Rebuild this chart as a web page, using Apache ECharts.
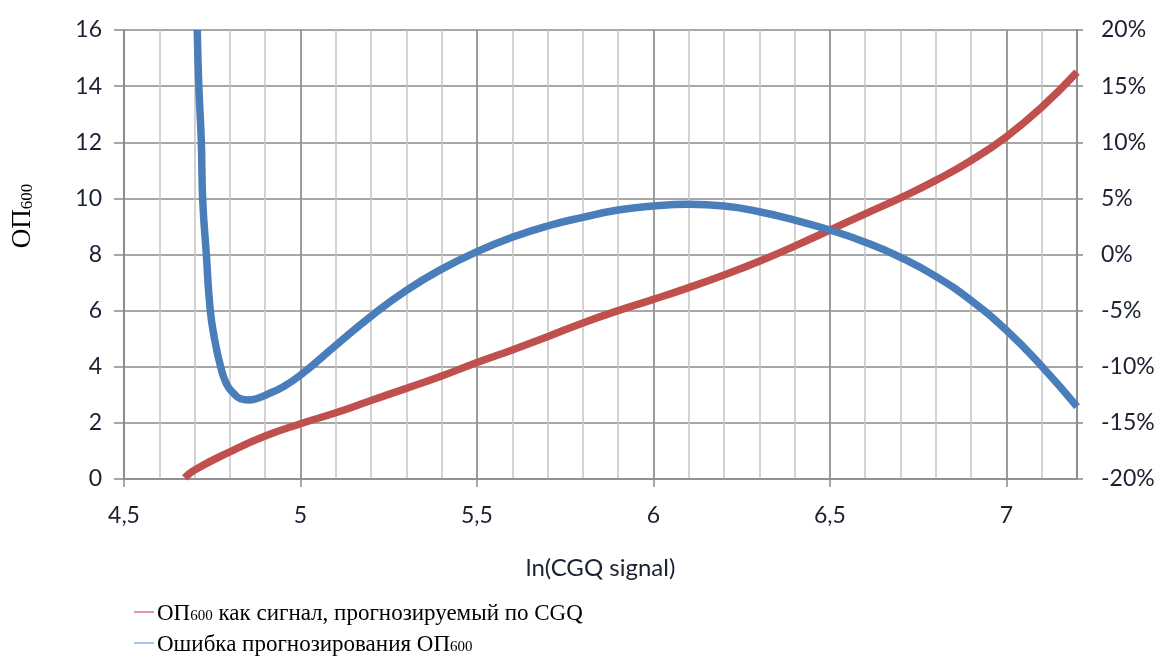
<!DOCTYPE html>
<html>
<head>
<meta charset="utf-8">
<script src="https://cdn.jsdelivr.net/npm/echarts@6/dist/echarts.min.js"></script>
<style>
html,body{margin:0;padding:0;background:#fff;}
#c{width:1167px;height:657px;}
</style>
</head>
<body>
<div id="c"></div>
<script>
// ---- data ----
const xTickLabels = ['4,5', '5', '5,5', '6', '6,5', '7'];
const redX = [4.672, 4.7, 4.8, 4.9, 5.0, 5.1, 5.2, 5.3, 5.4, 5.5, 5.6, 5.7, 5.8, 5.9, 6.0, 6.1, 6.2, 6.3, 6.4, 6.5, 6.6, 6.7, 6.8, 6.9, 7.0, 7.1, 7.2];
const redY = [0.04, 0.32, 0.97, 1.53, 1.97, 2.36, 2.80, 3.23, 3.67, 4.15, 4.60, 5.07, 5.56, 6.0, 6.40, 6.82, 7.27, 7.76, 8.30, 8.87, 9.45, 10.02, 10.64, 11.35, 12.2, 13.25, 14.5];
const blueX = [4.7075, 4.712, 4.719, 4.723, 4.733, 4.744, 4.757, 4.773, 4.79, 4.81, 4.83, 4.851, 4.875, 4.903, 4.95, 5.0, 5.1, 5.2, 5.3, 5.4, 5.5, 5.6, 5.7, 5.8, 5.9, 6.0, 6.1, 6.2, 6.3, 6.4, 6.5, 6.6, 6.7, 6.8, 6.9, 7.0, 7.1, 7.2];
const blueY = [20, 15, 10.1, 4.85, 0.13, -4.85, -7.6, -9.9, -11.5, -12.35, -12.85, -12.96, -12.85, -12.5, -11.8, -10.75, -8.1, -5.5, -3.2, -1.3, 0.25, 1.53, 2.54, 3.31, 3.96, 4.32, 4.47, 4.32, 3.81, 3.07, 2.18, 1.1, -0.25, -1.95, -4.1, -6.75, -9.95, -13.56];
const seriesNames = ['ОП600 как сигнал, прогнозируемый по CGQ', 'Ошибка прогнозирования ОП600'];
const legendRich = ['{t|ОП}{s|600}{t| как сигнал, прогнозируемый по CGQ}', '{t|Ошибка прогнозирования ОП}{s|600}'];

const redData = redX.map((x, i) => [x, redY[i]]);
const blueData = blueX.map((x, i) => [x, blueY[i]]);

const labelFont = 'Lato';
const labelColor = '#1c2033';
const fmtX = v => {
  const s = (Math.round(v * 10) / 10).toString().replace('.', ',');
  return xTickLabels.indexOf(s) >= 0 ? s : '';
};
const legendText = {
  padding: [0, 0, 0, -2],
  rich: {
    t: {fontFamily: 'Liberation Serif', fontSize: 23, color: '#000', lineHeight: 26, verticalAlign: 'bottom'},
    s: {fontFamily: 'Liberation Serif', fontSize: 15, color: '#000', lineHeight: 15, verticalAlign: 'bottom', padding: [0, 0, 1, 0]}
  }
};

const chart = echarts.init(document.getElementById('c'), null, {renderer: 'canvas'});
chart.setOption({
  animation: false,
  backgroundColor: '#fff',
  grid: {left: 124, right: 90, top: 30, bottom: 178, containLabel: false},
  xAxis: [
    { // minor grid
      type: 'value', min: 4.5, max: 7.2, interval: 0.1, position: 'bottom',
      axisLine: {show: false}, axisTick: {show: false}, axisLabel: {show: false},
      splitLine: {show: true, lineStyle: {color: '#c4c4c4', width: 1.5}}
    },
    { // major axis
      type: 'value', min: 4.5, max: 7.2, interval: 0.5, position: 'bottom',
      axisLine: {show: true, onZero: false, lineStyle: {color: '#8a8a8a', width: 1.5}},
      axisTick: {show: true, length: 8, lineStyle: {color: '#8a8a8a', width: 1.5}},
      axisLabel: {show: true, showMaxLabel: false, formatter: fmtX, margin: 25,
        fontFamily: labelFont, fontSize: 23, color: labelColor},
      splitLine: {show: true, lineStyle: {color: '#8a8a8a', width: 1.5}},
      name: 'ln(CGQ signal)', nameLocation: 'middle', nameGap: 77,
      nameTextStyle: {fontFamily: labelFont, fontSize: 24, color: labelColor}
    }
  ],
  yAxis: [
    {
      type: 'value', min: 0, max: 16, interval: 2, position: 'left',
      axisLine: {show: true, lineStyle: {color: '#8a8a8a', width: 1.5}},
      axisTick: {show: true, length: 10, lineStyle: {color: '#8a8a8a', width: 1.5}},
      axisLabel: {margin: 22, fontFamily: labelFont, fontSize: 23, color: labelColor},
      splitLine: {show: true, lineStyle: {color: '#8a8a8a', width: 1.5}}
    },
    {
      type: 'value', min: -20, max: 20, interval: 5, position: 'right',
      axisLine: {show: true, lineStyle: {color: '#8a8a8a', width: 1.5}},
      axisTick: {show: true, length: 6, lineStyle: {color: '#8a8a8a', width: 1.5}},
      axisLabel: {margin: 24, fontFamily: labelFont, fontSize: 23, color: labelColor,
        formatter: v => v + '%'},
      splitLine: {show: false}
    }
  ],
  legend: [
    {
      orient: 'horizontal', left: 129, top: 597,
      icon: 'rect', itemWidth: 20, itemHeight: 2,
      data: [{name: seriesNames[0], itemStyle: {color: '#e39a98'}}],
      formatter: name => legendRich[seriesNames.indexOf(name)],
      textStyle: legendText
    },
    {
      orient: 'horizontal', left: 129, top: 628,
      icon: 'rect', itemWidth: 20, itemHeight: 2,
      data: [{name: seriesNames[1], itemStyle: {color: '#a8c4e6'}}],
      formatter: name => legendRich[seriesNames.indexOf(name)],
      textStyle: legendText
    }
  ],
  graphic: [{
    type: 'text', x: 22, y: 216, rotation: Math.PI / 2, origin: [0, 0],
    style: {
      text: '{t|ОП}{s|600}',
      rich: {
        t: {fontFamily: 'Liberation Serif', fontSize: 27, fill: '#000', lineHeight: 28, verticalAlign: 'bottom'},
        s: {fontFamily: 'Liberation Serif', fontSize: 17, fill: '#000', lineHeight: 17, verticalAlign: 'bottom'}
      },
      align: 'center', verticalAlign: 'middle'
    }
  }],
  series: [
    {
      name: seriesNames[0], type: 'line', xAxisIndex: 1, yAxisIndex: 0,
      data: redData, showSymbol: false, symbol: 'none',
      smooth: 0.5,
      lineStyle: {color: '#c0504d', width: 7.5, cap: 'butt'},
      itemStyle: {color: '#e39a98'}
    },
    {
      name: seriesNames[1], type: 'line', xAxisIndex: 1, yAxisIndex: 1,
      data: blueData, showSymbol: false, symbol: 'none',
      smooth: 0.5,
      lineStyle: {color: '#4a7ebb', width: 7.5, cap: 'butt'},
      itemStyle: {color: '#a8c4e6'}
    }
  ]
});
</script>
</body>
</html>
